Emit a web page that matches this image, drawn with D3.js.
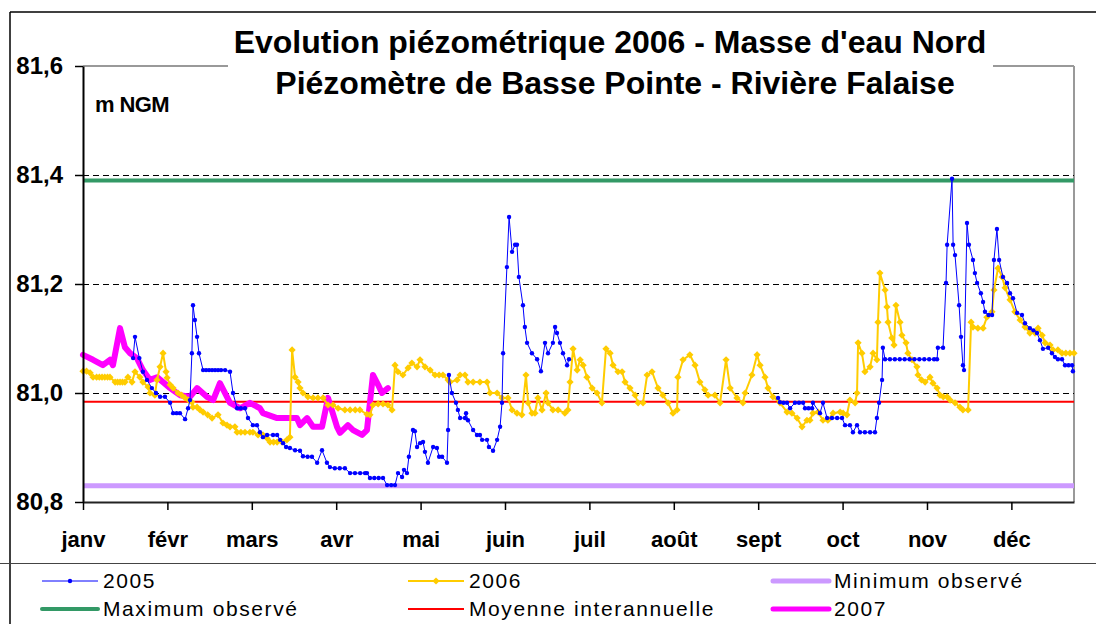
<!DOCTYPE html>
<html>
<head>
<meta charset="utf-8">
<script src="https://d3js.org/d3.v7.min.js"></script>
<style>
  body { margin: 0; background: #fff; }
  text { font-family: "Liberation Sans", Arial, sans-serif; }
</style>
</head>
<body>
<script>
// chart size
var width = 1096, height = 624;
var plot = {left: 83, right: 1074, top: 66, bottom: 502};

var months = ["janv", "févr", "mars", "avr", "mai", "juin", "juil", "août", "sept", "oct", "nov", "déc"];
var monthStart = [0, 31, 62, 93, 124, 155, 186, 217, 248, 279, 310, 341];
var yTicks = [80.8, 81.0, 81.2, 81.4, 81.6];
var gridValues = [81.0, 81.2, 81.4];

var minObs = 80.83;
var maxObs = 81.39;
var moyenne = 80.984;

// [jour, m NGM]
var s2005a = [[18.4,81.064],[19.1,81.103],[20.7,81.064],[22.0,81.039],[23.5,81.024],[25.3,81.009],[26.8,81.0],[28.3,80.993],[30.1,80.993],[32.0,80.982],[33.1,80.963],[34.4,80.963],[35.6,80.963],[37.5,80.952],[38.6,80.972],[39.3,80.987],[40.0,81.073],[40.4,81.161],[41.1,81.134],[41.9,81.103],[42.6,81.073],[44.1,81.042],[45.2,81.042],[46.3,81.042],[47.4,81.042],[48.5,81.042],[49.6,81.042],[50.7,81.042],[52.2,81.042],[54.0,81.039],[55.1,81.0],[56.6,80.972],[58.0,80.972],[59.5,80.972],[60.6,80.954],[62.4,80.941],[63.9,80.941],[65.0,80.928],[66.1,80.919],[67.6,80.923],[69.8,80.923],[71.3,80.923],[72.4,80.914],[73.5,80.908],[74.6,80.901],[76.0,80.899],[77.9,80.895],[79.7,80.894],[80.8,80.884],[82.5,80.883],[84.1,80.883],[86.0,80.872],[87.8,80.895],[89.6,80.872],[90.7,80.864],[92.5,80.862],[94.3,80.862],[96.2,80.862],[98.1,80.853],[99.9,80.853],[101.8,80.853],[103.6,80.853],[104.3,80.853],[105.4,80.844],[107.0,80.844],[108.6,80.844],[110.2,80.844],[111.7,80.831],[113.2,80.831],[114.6,80.831],[115.7,80.853],[117.2,80.846],[117.9,80.859],[119.0,80.853],[119.7,80.883],[121.2,80.932],[121.9,80.930],[122.7,80.901],[123.8,80.908],[124.9,80.910],[125.6,80.892],[126.7,80.872],[128.6,80.901],[130.0,80.899],[130.8,80.883],[131.9,80.883],[133.7,80.872],[134.1,80.932],[134.4,81.033],[135.5,81.0],[137.0,80.982],[137.7,80.969],[138.5,80.954],[140.3,80.954],[140.7,80.963],[141.4,80.950],[143.3,80.932],[144.7,80.923],[145.8,80.923],[146.6,80.914],[148.4,80.914],[149.1,80.901],[150.6,80.894],[152.1,80.914],[153.2,80.938],[153.9,80.982],[154.3,81.073],[155.7,81.231],[156.5,81.323],[157.6,81.259],[158.7,81.272],[159.4,81.272],[160.1,81.213],[161.6,81.161],[162.3,81.121],[163.1,81.092],[164.9,81.073],[166.8,81.062],[168.2,81.040],[169.7,81.092],[170.8,81.073],[172.6,81.092],[173.4,81.121],[174.1,81.110],[175.2,81.092],[176.3,81.073],[177.8,81.051],[178.5,81.062]];

var s2005b = [[255.3,80.991],[256.0,80.983],[257.3,80.982],[258.6,80.982],[259.7,80.972],[261.5,80.982],[263.0,80.982],[264.5,80.982],[265.2,80.972],[266.5,80.972],[267.8,80.972],[268.1,80.982],[270.7,80.963],[271.8,80.982],[273.3,80.954],[275.1,80.954],[277.0,80.954],[278.8,80.954],[279.9,80.941],[281.7,80.941],[282.8,80.928],[284.3,80.941],[285.4,80.928],[287.2,80.928],[289.1,80.928],[290.9,80.928],[291.6,80.954],[292.4,80.982],[293.5,81.024],[293.8,81.083],[294.6,81.062],[296.4,81.062],[298.2,81.062],[300.0,81.062],[301.8,81.062],[303.6,81.062],[305.4,81.062],[307.2,81.062],[309.0,81.062],[310.8,81.062],[312.6,81.062],[313.7,81.062],[314.0,81.083],[315.9,81.083],[317.0,81.202],[317.4,81.272],[319.2,81.393],[319.6,81.272],[320.3,81.253],[321.8,81.161],[322.5,81.103],[323.2,81.051],[323.6,81.042],[324.7,81.312],[325.4,81.272],[326.9,81.244],[327.6,81.220],[328.4,81.202],[329.8,81.183],[330.6,81.167],[331.3,81.149],[332.6,81.143],[333.9,81.143],[334.6,81.244],[335.7,81.301],[336.5,81.244],[337.9,81.213],[339.4,81.202],[340.5,81.183],[341.6,81.174],[343.1,81.147],[344.9,81.143],[346.0,81.128],[347.8,81.119],[349.1,81.115],[350.4,81.110],[351.5,81.097],[352.6,81.081],[354.5,81.083],[355.9,81.073],[357.0,81.066],[358.1,81.062],[359.6,81.062],[360.7,81.051],[362.0,81.051],[363.3,81.051],[363.6,81.040]];

var s2006 = [[0,81.040],[1.3,81.040],[2.6,81.037],[3.7,81.029],[5.0,81.029],[6.0,81.029],[7.0,81.029],[8.0,81.029],[9.0,81.029],[9.9,81.029],[11.8,81.020],[12.7,81.020],[13.6,81.020],[14.5,81.020],[15.4,81.020],[16.5,81.029],[18.0,81.020],[19.1,81.039],[20.9,81.029],[22.0,81.020],[23.9,81.011],[24.6,81.0],[26.4,80.996],[27.2,81.024],[28.3,81.048],[29.4,81.073],[30.5,81.039],[30.9,81.028],[32.0,81.015],[33.1,81.009],[34.9,81.0],[36.2,80.996],[37.5,80.991],[38.8,80.987],[40.0,80.983],[40.4,80.974],[41.9,80.974],[43.0,80.969],[44.1,80.965],[45.8,80.960],[47.4,80.954],[49.6,80.960],[51.4,80.945],[52.9,80.941],[54.0,80.938],[55.8,80.938],[56.6,80.928],[58.0,80.928],[59.5,80.928],[61.3,80.928],[62.4,80.928],[64.3,80.923],[66.1,80.923],[67.6,80.917],[68.7,80.910],[70.0,80.910],[71.3,80.910],[73.1,80.910],[74.9,80.914],[76.0,80.919],[76.8,81.079],[77.9,81.029],[79.0,81.020],[79.7,81.009],[80.8,81.0],[82.6,80.993],[84.5,80.991],[86.3,80.991],[88.2,80.991],[90.0,80.978],[91.8,80.978],[93.7,80.972],[96.2,80.969],[98.1,80.969],[100.0,80.969],[101.7,80.969],[104.3,80.961],[105.4,80.960],[106.5,80.978],[108.4,80.980],[110.2,80.980],[112.0,80.978],[113.5,80.969],[114.6,81.051],[115.7,81.039],[117.5,81.033],[119.4,81.046],[120.8,81.055],[122.7,81.048],[123.8,81.061],[125.6,81.048],[127.5,81.042],[129.3,81.033],[130.8,81.033],[132.2,81.033],[134.1,81.024],[134.8,81.020],[137.4,81.024],[138.5,81.033],[140.3,81.033],[141.4,81.020],[143.3,81.020],[145.8,81.020],[148.4,81.020],[149.5,81.0],[152.1,81.0],[153.9,80.991],[156.1,80.991],[157.6,80.969],[159.4,80.963],[161.2,80.960],[162.7,81.033],[163.5,80.982],[164.9,80.963],[166.0,80.963],[167.1,80.991],[168.6,80.969],[170.1,81.0],[170.8,80.982],[172.6,80.969],[174.5,80.969],[177.0,80.963],[178.1,80.969],[178.9,81.020],[180.0,81.081],[181.5,81.042],[182.6,81.061],[183.7,81.051],[185.1,81.029],[187.0,81.009],[188.8,81.0],[190.6,80.982],[192.1,81.081],[193.6,81.073],[194.7,81.051],[196.5,81.039],[198.0,81.039],[199.1,81.020],[200.9,81.009],[202.8,80.996],[203.9,80.982],[205.7,80.982],[207.2,81.033],[209.0,81.039],[211.2,81.009],[213.0,80.996],[214.9,80.982],[216.7,80.963],[218.2,80.969],[218.5,81.029],[220.4,81.061],[222.9,81.070],[224.8,81.051],[226.6,81.020],[228.4,81.006],[229.6,80.996],[232.1,80.996],[234.0,80.982],[236.2,81.061],[237.7,81.009],[240.2,80.991],[242.4,80.982],[243.2,81.0],[245.7,81.033],[247.6,81.070],[248.7,81.051],[250.5,81.029],[251.6,81.009],[253.4,80.993],[256.0,80.982],[258.6,80.965],[260.4,80.963],[262.3,80.954],[264.1,80.938],[265.9,80.950],[267.0,80.950],[268.1,80.963],[270.0,80.965],[271.8,80.950],[273.6,80.950],[275.5,80.963],[278.1,80.965],[279.2,80.963],[280.6,80.960],[281.7,80.987],[283.6,80.982],[284.3,81.0],[284.7,81.092],[286.1,81.073],[287.2,81.039],[289.1,81.048],[290.2,81.073],[291.6,81.061],[292.0,81.130],[292.7,81.220],[294.6,81.189],[295.3,81.158],[295.7,81.130],[297.1,81.101],[297.9,81.088],[298.6,81.161],[300.1,81.130],[300.8,81.106],[302.3,81.092],[303.0,81.073],[304.5,81.061],[306.3,81.048],[306.7,81.033],[308.0,81.024],[309.3,81.020],[311.1,81.029],[312.2,81.018],[313.7,81.009],[314.8,80.996],[316.0,80.993],[317.4,80.993],[318.5,80.987],[320.3,80.982],[322.1,80.974],[323.2,80.969],[325.1,80.969],[326.2,81.130],[326.9,81.121],[328.7,81.119],[330.6,81.119],[332.0,81.139],[333.9,81.149],[334.6,81.189],[336.1,81.229],[337.6,81.213],[338.7,81.193],[340.5,81.171],[342.3,81.149],[344.2,81.134],[346.0,81.121],[347.8,81.110],[349.7,81.110],[350.8,81.119],[352.3,81.106],[353.4,81.092],[355.2,81.088],[356.3,81.079],[358.1,81.079],[359.6,81.073],[361.0,81.073],[362.5,81.073],[364.0,81.073]];

var s2007 = [[0,81.070],[3.7,81.061],[7.3,81.051],[9.9,81.061],[11.0,81.051],[13.6,81.119],[15.4,81.084],[17.3,81.073],[19.8,81.064],[22.0,81.042],[24.6,81.024],[27.2,81.029],[29.4,81.020],[32.0,81.009],[35.6,80.996],[39.3,80.993],[41.9,81.009],[45.5,80.993],[47.8,80.987],[50.3,81.018],[54.0,80.982],[57.7,80.972],[61.3,80.982],[65.0,80.972],[66.1,80.963],[71.3,80.954],[78.6,80.954],[79.7,80.941],[82.3,80.954],[84.5,80.938],[87.8,80.938],[90.0,80.991],[93.3,80.938],[94.4,80.927],[97.3,80.941],[99.2,80.932],[102.5,80.923],[104.3,80.932],[106.5,81.033],[108.4,81.015],[109.8,81.0],[112.0,81.009]];

var svg = d3.select("body").append("svg")
  .attr("width", width)
  .attr("height", height);

var x = d3.scaleLinear().domain([0, 364]).range([plot.left, plot.right]);
var y = d3.scaleLinear().domain([80.8, 81.6]).range([plot.bottom, plot.top]);

var line = d3.line()
  .x(function(d) { return x(d[0]); })
  .y(function(d) { return y(d[1]); });

// outer frame
svg.append("line").attr("x1", 10).attr("x2", width).attr("y1", 12).attr("y2", 12)
  .attr("stroke", "#000").attr("stroke-width", 1.5);
svg.append("line").attr("x1", 10).attr("x2", 10).attr("y1", 12).attr("y2", height)
  .attr("stroke", "#000").attr("stroke-width", 1.5);
svg.append("line").attr("x1", 0).attr("x2", width).attr("y1", 563.5).attr("y2", 563.5)
  .attr("stroke", "#444").attr("stroke-width", 1);

// plot border (top/right grey)
svg.append("line").attr("x1", plot.left).attr("x2", plot.right).attr("y1", plot.top).attr("y2", plot.top)
  .attr("stroke", "#999").attr("stroke-width", 2);
svg.append("line").attr("x1", plot.right).attr("x2", plot.right).attr("y1", plot.top).attr("y2", plot.bottom)
  .attr("stroke", "#999").attr("stroke-width", 2);

// dashed grid
svg.selectAll(".grid").data(gridValues).enter().append("line")
  .attr("x1", plot.left).attr("x2", plot.right)
  .attr("y1", function(d) { return Math.round(y(d)) + 0.5; })
  .attr("y2", function(d) { return Math.round(y(d)) + 0.5; })
  .attr("stroke", "#000").attr("stroke-width", 1).attr("stroke-dasharray", "6,4");

// reference lines
function hline(v, color, w) {
  svg.append("line").attr("x1", plot.left).attr("x2", plot.right)
    .attr("y1", y(v)).attr("y2", y(v))
    .attr("stroke", color).attr("stroke-width", w);
}
hline(minObs, "#CC99FF", 5);
hline(maxObs, "#339966", 4);
hline(moyenne, "#FF0000", 2);

// 2007
svg.append("path").datum(s2007).attr("d", line)
  .attr("fill", "none").attr("stroke", "#FF00FF").attr("stroke-width", 6)
  .attr("stroke-linejoin", "round").attr("stroke-linecap", "round");

// 2006
var diamond = "M0,-3.6L3.6,0L0,3.6L-3.6,0Z";
svg.append("path").datum(s2006).attr("d", line)
  .attr("fill", "none").attr("stroke", "#FFCC00").attr("stroke-width", 2);
svg.selectAll(".m2006").data(s2006).enter().append("path")
  .attr("d", diamond)
  .attr("transform", function(d) { return "translate(" + x(d[0]) + "," + y(d[1]) + ")"; })
  .attr("fill", "#FFCC00");

// 2005
[s2005a, s2005b].forEach(function(seg) {
  svg.append("path").datum(seg).attr("d", line)
    .attr("fill", "none").attr("stroke", "#0000FF").attr("stroke-width", 1);
  svg.selectAll(null).data(seg).enter().append("circle")
    .attr("cx", function(d) { return x(d[0]); })
    .attr("cy", function(d) { return y(d[1]); })
    .attr("r", 2.2).attr("fill", "#0000FF");
});

// axes
var yAxis = svg.append("g").attr("transform", "translate(" + plot.left + ",0)")
  .call(d3.axisLeft(y).tickValues(yTicks).tickSize(8).tickSizeOuter(0).tickPadding(12)
    .tickFormat(function(d) { return d.toFixed(1).replace(".", ","); }));
yAxis.selectAll("text").attr("font-size", 24).attr("font-weight", "bold").attr("fill", "#000")
  .attr("font-family", "Liberation Sans, Arial, sans-serif");
yAxis.select(".domain").attr("stroke-width", 2);
yAxis.selectAll(".tick line").attr("stroke-width", 1.5);

var xAxis = svg.append("g").attr("transform", "translate(0," + plot.bottom + ")")
  .call(d3.axisBottom(x).tickValues(monthStart).tickSize(8).tickSizeOuter(0).tickPadding(21)
    .tickFormat(function(d, i) { return months[i]; }));
xAxis.selectAll("text").attr("font-size", 22).attr("font-weight", "bold").attr("fill", "#000")
  .attr("font-family", "Liberation Sans, Arial, sans-serif");
xAxis.select(".domain").attr("stroke-width", 2).attr("stroke", "#222");
xAxis.selectAll(".tick line").attr("stroke-width", 1.5);

// title on white block
svg.append("rect").attr("x", 228).attr("y", 16).attr("width", 765).attr("height", 90).attr("fill", "#fff");
svg.append("text").attr("x", 610).attr("y", 53).attr("text-anchor", "middle")
  .attr("font-size", 32).attr("font-weight", "bold")
  .text("Evolution piézométrique 2006 - Masse d'eau Nord");
svg.append("text").attr("x", 615).attr("y", 94).attr("text-anchor", "middle")
  .attr("font-size", 32).attr("font-weight", "bold")
  .text("Piézomètre de Basse Pointe - Rivière Falaise");

svg.append("text").attr("x", 95).attr("y", 112)
  .attr("font-size", 22).attr("font-weight", "bold").attr("letter-spacing", -0.6)
  .text("m NGM");

// legend
var legendItems = [
  {name: "2005", color: "#0000FF", w: 1, marker: "circle", col: 0, row: 0},
  {name: "2006", color: "#FFCC00", w: 2, marker: "diamond", col: 1, row: 0},
  {name: "Minimum observé", color: "#CC99FF", w: 5, col: 2, row: 0},
  {name: "Maximum observé", color: "#339966", w: 4, col: 0, row: 1},
  {name: "Moyenne interannuelle", color: "#FF0000", w: 2, col: 1, row: 1},
  {name: "2007", color: "#FF00FF", w: 5, col: 2, row: 1}
];
var colX = [42, 408, 773];
var rowY = [581, 609];

legendItems.forEach(function(it) {
  var x0 = colX[it.col], yy = rowY[it.row];
  svg.append("line").attr("x1", x0).attr("x2", x0 + 56).attr("y1", yy).attr("y2", yy)
    .attr("stroke", it.color).attr("stroke-width", it.w).attr("stroke-linecap", it.w > 3 ? "round" : "butt");
  if (it.marker === "circle") {
    svg.append("circle").attr("cx", x0 + 28).attr("cy", yy).attr("r", 2.2).attr("fill", it.color);
  } else if (it.marker === "diamond") {
    svg.append("path").attr("d", diamond).attr("transform", "translate(" + (x0 + 28) + "," + yy + ")")
      .attr("fill", it.color);
  }
  svg.append("text").attr("x", x0 + 61).attr("y", yy + 7)
    .attr("font-size", 21).attr("letter-spacing", 1.6).attr("fill", "#000")
    .text(it.name);
});
</script>
</body>
</html>
